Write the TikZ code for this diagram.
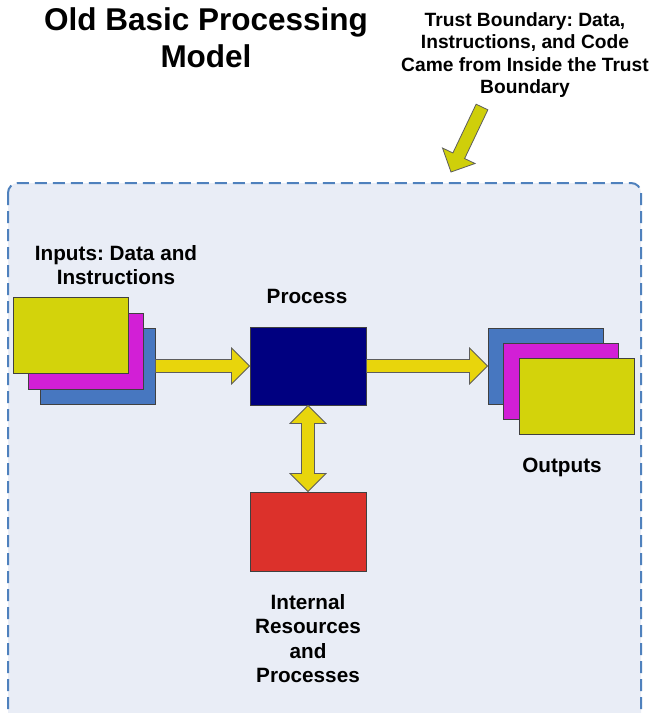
\documentclass[tikz,border=0pt]{standalone}
\usepackage{fontspec}
\setmainfont{Liberation Sans}
\usetikzlibrary{calc}
\frenchspacing

\definecolor{pageBg}{HTML}{FFFFFF}
\definecolor{zoneFill}{HTML}{E9EDF6}
\definecolor{zoneLine}{HTML}{4F81BD}
\definecolor{boxYellow}{HTML}{D3D30B}
\definecolor{boxMagenta}{HTML}{D21FD6}
\definecolor{boxBlue}{HTML}{4777C0}
\definecolor{boxRed}{HTML}{DC312B}
\definecolor{boxNavy}{HTML}{000080}
\definecolor{flowYellow}{HTML}{E8D50C}
\definecolor{pointYellow}{HTML}{CFCF0A}
\definecolor{edgeGray}{HTML}{404040}

\newcommand\fTitle{\fontsize{31.5}{37}\selectfont\bfseries}
\newcommand\fNote{\fontsize{19.2}{22.5}\selectfont\bfseries}
\newcommand\fLabel{\fontsize{20.7}{24.5}\selectfont\bfseries}

% block arrow from #2 (tail) to #3 (tip)
\newcommand\fatarrow[3][]{%
  \filldraw[fatarrow,#1]
    ($#2!6.5pt!90:#3$)
    -- ($($#3!18pt!#2$)!6.5pt!90:#3$)
    -- ($($#3!18pt!#2$)!18pt!90:#3$)
    -- #3
    -- ($($#3!18pt!#2$)!18pt!-90:#3$)
    -- ($($#3!18pt!#2$)!6.5pt!-90:#3$)
    -- ($#2!6.5pt!-90:#3$) -- cycle;}

% block arrow with heads at both ends, #2 and #3
\newcommand\fatdarrow[3][]{%
  \filldraw[fatarrow,#1]
    #2
    -- ($($#2!18pt!#3$)!18pt!90:#3$)
    -- ($($#2!18pt!#3$)!6.5pt!90:#3$)
    -- ($($#3!18pt!#2$)!6.5pt!90:#3$)
    -- ($($#3!18pt!#2$)!18pt!90:#3$)
    -- #3
    -- ($($#3!18pt!#2$)!18pt!-90:#3$)
    -- ($($#3!18pt!#2$)!6.5pt!-90:#3$)
    -- ($($#2!18pt!#3$)!6.5pt!-90:#3$)
    -- ($($#2!18pt!#3$)!18pt!-90:#3$)
    -- cycle;}

\tikzset{
  stackbox/.style={draw=edgeGray, line width=0.9pt, inner sep=0pt,
    minimum width=115pt, minimum height=76pt},
  fatarrow/.style={draw=edgeGray!85, line width=0.8pt, fill=flowYellow,
    line join=miter},
  lbl/.style={font=\fLabel, align=center, inner sep=0pt},
  zone/.style={draw=zoneLine, fill=zoneFill, line width=2pt,
    dash pattern=on 12pt off 6pt, rounded corners=10pt},
}

\begin{document}
\begin{tikzpicture}[x=1pt,y=-1pt]
\useasboundingbox (0,0) rectangle (650,713);
\clip (0,0) rectangle (650,713);
\fill[pageBg] (0,0) rectangle (650,713);

% trust boundary region
\draw[zone] (8,183) rectangle (641,724);

% headings
\node[font=\fTitle, align=center, inner sep=0pt, anchor=north] (title)
  at (206,7) {Old Basic Processing\\Model};
\node[font=\fNote, align=center, inner sep=0pt, anchor=north] (note)
  at (525,12) {Trust Boundary: Data,\\Instructions, and Code\\Came from Inside the Trust\\Boundary};

% pointer into the boundary
\coordinate (ptail) at (482,107);
\coordinate (ptip) at (451,172);
\fatarrow[fill=pointYellow]{(ptail)}{(ptip)}

% input stack
\node[stackbox, fill=boxBlue] (inB) at (97.5,366) {};
\node[stackbox, fill=boxMagenta] (inM) at (85.5,351) {};
\node[stackbox, fill=boxYellow] (inY) at (70.5,335) {};
\node[lbl, anchor=north] (inLbl) at (116,245) {Inputs: Data and\\Instructions};

% process
\node[stackbox, fill=boxNavy, minimum width=116pt, minimum height=78pt] (proc) at (308,366) {};
\node[lbl, anchor=base] (procLbl) at (307,303) {Process};

% internal resources
\node[stackbox, fill=boxRed, minimum width=116pt, minimum height=79pt] (res) at (308,531.5) {};
\node[lbl, anchor=north] (resLbl) at (308,594) {Internal\\Resources\\and\\Processes};

% output stack
\node[stackbox, fill=boxBlue] (outB) at (545.5,366) {};
\node[stackbox, fill=boxMagenta] (outM) at (561,381) {};
\node[stackbox, fill=boxYellow] (outY) at (576.5,396) {};
\node[lbl, anchor=base] (outLbl) at (562,472) {Outputs};

% flows
\fatarrow{(inB.east)}{(proc.west)}
\fatarrow{(proc.east)}{(outB.west)}
\fatdarrow{(proc.south)}{(res.north)}
\end{tikzpicture}
\end{document}
